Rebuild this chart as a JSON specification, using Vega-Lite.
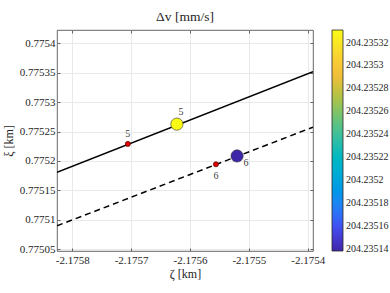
{
  "$schema": "https://vega.github.io/schema/vega-lite/v6.json",
  "width": 256,
  "height": 221,
  "autosize": {"type": "none"},
  "padding": {"left": 57, "top": 30, "right": 77, "bottom": 42},
  "background": "white",
  "title": {"text": "Δv [mm/s]", "font": "Liberation Serif", "fontSize": 13.5, "fontWeight": "normal", "color": "#262626", "offset": 6},
  "config": {
    "view": {"stroke": "#404040", "strokeWidth": 0.8},
    "axis": {
      "labelFont": "Liberation Serif", "labelFontSize": 11, "labelColor": "#262626",
      "titleFont": "Liberation Serif", "titleFontSize": 12, "titleFontWeight": "normal", "titleColor": "#262626",
      "gridColor": "#e3e3e3", "gridWidth": 0.8, "domain": false,
      "tickColor": "#404040", "tickSize": -3, "tickWidth": 0.8
    }
  },
  "datasets": {
    "lines": [
      {"series": "solid", "zeta": -2.175826, "xi": 0.7751808},
      {"series": "solid", "zeta": -2.175391, "xi": 0.7753517},
      {"series": "dashed", "zeta": -2.175826, "xi": 0.7750898},
      {"series": "dashed", "zeta": -2.175391, "xi": 0.7752575}
    ],
    "points": [
      {"id": "a", "zeta": -2.1757056, "xi": 0.775229, "label": "5", "kind": "small"},
      {"id": "b", "zeta": -2.1756223, "xi": 0.7752626, "label": "5", "kind": "big", "dv": 204.235331},
      {"id": "c", "zeta": -2.175556, "xi": 0.7751944, "label": "6", "kind": "small"},
      {"id": "d", "zeta": -2.17552, "xi": 0.7752085, "label": "6", "kind": "big", "dv": 204.235138}
    ]
  },
  "resolve": {"axis": {"x": "independent", "y": "independent"}},
  "layer": [
    {
      "data": {"name": "lines"},
      "transform": [{"filter": "datum.series == 'solid'"}],
      "mark": {"type": "line", "color": "black", "strokeWidth": 1.5, "clip": true},
      "encoding": {
        "x": {"field": "zeta", "type": "quantitative",
          "scale": {"domain": [-2.175826, -2.175391], "nice": false, "zero": false},
          "axis": {"title": "ζ [km]", "values": [-2.1758, -2.1757, -2.1756, -2.1755, -2.1754],
            "labelExpr": "replace(format(datum.value, '.5~r'), '−', '-')", "labelPadding": 6, "titlePadding": 3, "grid": true}},
        "y": {"field": "xi", "type": "quantitative",
          "scale": {"domain": [0.775047, 0.7754226], "nice": false, "zero": false},
          "axis": {"title": "ξ [km]", "values": [0.77505, 0.7751, 0.77515, 0.7752, 0.77525, 0.7753, 0.77535, 0.7754],
            "format": ".5~r", "labelPadding": 5, "titlePadding": 4, "grid": true}}
      }
    },
    {
      "data": {"name": "lines"},
      "transform": [{"filter": "datum.series == 'dashed'"}],
      "mark": {"type": "line", "color": "black", "strokeWidth": 1.5, "strokeDash": [6, 4], "clip": true},
      "encoding": {
        "x": {"field": "zeta", "type": "quantitative",
          "axis": {"orient": "top", "labels": false, "title": null, "grid": false,
            "values": [-2.1758, -2.1757, -2.1756, -2.1755, -2.1754]}},
        "y": {"field": "xi", "type": "quantitative",
          "axis": {"orient": "right", "labels": false, "title": null, "grid": false,
            "values": [0.77505, 0.7751, 0.77515, 0.7752, 0.77525, 0.7753, 0.77535, 0.7754]}}
      }
    },
    {
      "data": {"name": "points"},
      "transform": [{"filter": "datum.kind == 'small'"}],
      "mark": {"type": "point", "filled": true, "fill": "#e00000", "stroke": "#400000", "strokeWidth": 0.6, "size": 26, "opacity": 1},
      "encoding": {
        "x": {"field": "zeta", "type": "quantitative", "axis": null},
        "y": {"field": "xi", "type": "quantitative", "axis": null}
      }
    },
    {
      "data": {"name": "points"},
      "transform": [{"filter": "datum.kind == 'big'"}],
      "mark": {"type": "point", "filled": true, "stroke": "#303030", "strokeWidth": 0.6, "size": 150, "opacity": 1},
      "encoding": {
        "x": {"field": "zeta", "type": "quantitative", "axis": null},
        "y": {"field": "xi", "type": "quantitative", "axis": null},
        "fill": {"field": "dv", "type": "quantitative",
          "scale": {"domain": [204.235138, 204.235331], "range": ["#3e26a8", "#4748f0", "#2e7ff5", "#1c9fe0", "#06b5c8", "#30bea6", "#6cc275", "#b4c246", "#f5bd3b", "#f8d82d", "#f9fb15"]},
          "legend": {"type": "gradient", "title": null, "orient": "none", "legendX": 275, "legendY": 0,
            "direction": "vertical", "gradientLength": 221, "gradientThickness": 11,
            "gradientStrokeColor": "#262626", "gradientStrokeWidth": 0.8,
            "values": [204.23514, 204.23516, 204.23518, 204.2352, 204.23522, 204.23524, 204.23526, 204.23528, 204.2353, 204.23532],
            "format": ".8~r", "labelFont": "Liberation Serif", "labelFontSize": 10, "labelColor": "#262626", "labelOffset": 3, "labelOverlap": false}}
      }
    },
    {
      "data": {"name": "points"},
      "transform": [{"filter": "datum.id == 'a'"}],
      "mark": {"type": "text", "font": "Liberation Serif", "fontSize": 10, "color": "#404040", "dy": -10},
      "encoding": {"x": {"field": "zeta", "type": "quantitative", "axis": null}, "y": {"field": "xi", "type": "quantitative", "axis": null}, "text": {"field": "label"}}
    },
    {
      "data": {"name": "points"},
      "transform": [{"filter": "datum.id == 'b'"}],
      "mark": {"type": "text", "font": "Liberation Serif", "fontSize": 10, "color": "#404040", "dx": 4, "dy": -12},
      "encoding": {"x": {"field": "zeta", "type": "quantitative", "axis": null}, "y": {"field": "xi", "type": "quantitative", "axis": null}, "text": {"field": "label"}}
    },
    {
      "data": {"name": "points"},
      "transform": [{"filter": "datum.id == 'c'"}],
      "mark": {"type": "text", "font": "Liberation Serif", "fontSize": 10, "color": "#404040", "dy": 12},
      "encoding": {"x": {"field": "zeta", "type": "quantitative", "axis": null}, "y": {"field": "xi", "type": "quantitative", "axis": null}, "text": {"field": "label"}}
    },
    {
      "data": {"name": "points"},
      "transform": [{"filter": "datum.id == 'd'"}],
      "mark": {"type": "text", "font": "Liberation Serif", "fontSize": 10, "color": "#404040", "dx": 9, "dy": 7},
      "encoding": {"x": {"field": "zeta", "type": "quantitative", "axis": null}, "y": {"field": "xi", "type": "quantitative", "axis": null}, "text": {"field": "label"}}
    }
  ]
}
